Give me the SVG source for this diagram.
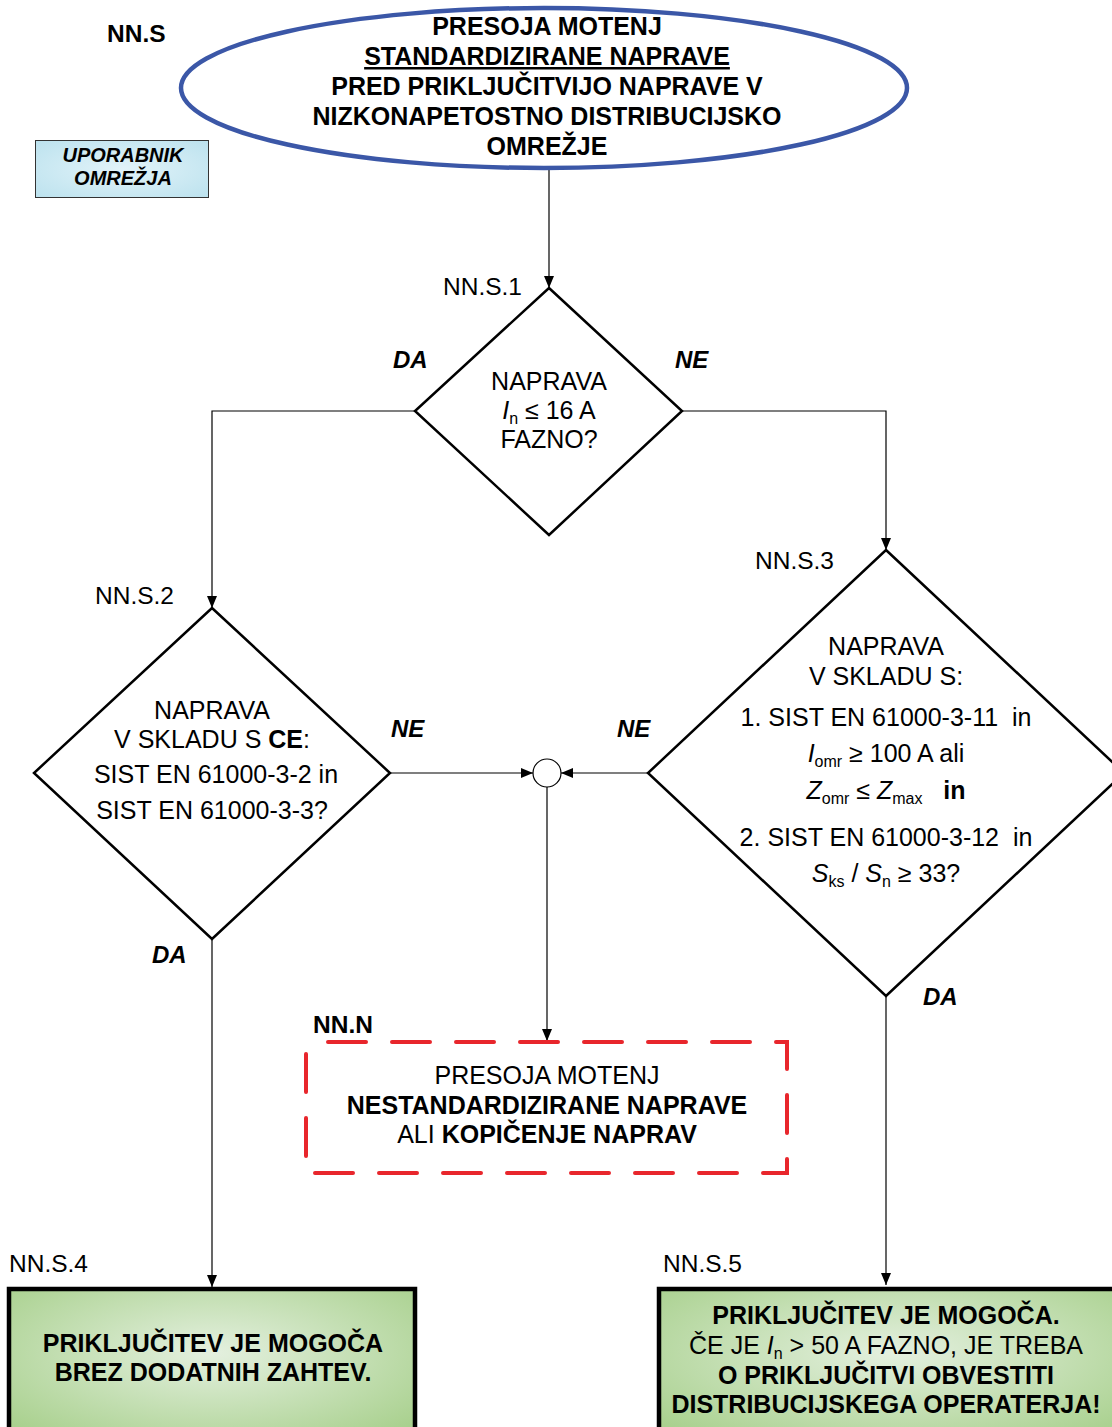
<svg xmlns="http://www.w3.org/2000/svg" width="1112" height="1427" viewBox="0 0 1112 1427">
  <defs>
    <marker id="arrow" viewBox="0 0 12 10" refX="12" refY="5" markerWidth="12" markerHeight="10" markerUnits="userSpaceOnUse" orient="auto">
      <path d="M0,0 L12,5 L0,10 Z" fill="#000"/>
    </marker>
    <radialGradient id="greenFill" cx="50%" cy="40%" r="70%">
      <stop offset="0" stop-color="#E4F0DF"/>
      <stop offset="1" stop-color="#A6CF8A"/>
    </radialGradient>
    <radialGradient id="blueFill" cx="50%" cy="50%" r="70%">
      <stop offset="0" stop-color="#E2F3F9"/>
      <stop offset="1" stop-color="#BCE2EE"/>
    </radialGradient>
    <style>
      text { font-family: "Liberation Sans", Arial, sans-serif; fill: #000; }
      .t { font-size: 25px; text-anchor: middle; }
      .b { font-weight: bold; }
      .lbl { font-size: 24.5px; }
      .yn { font-size: 24px; font-weight: bold; font-style: italic; }
      .sub { font-size: 16px; }
      .diamond { fill: #fff; stroke: #000; stroke-width: 2.5; }
      .conn { fill: none; stroke: #000; stroke-width: 1.2; }
      .result { fill: url(#greenFill); stroke: #000; stroke-width: 4.5; }
    </style>
  </defs>

  <rect width="1112" height="1427" fill="#fff"/>

  <!-- connectors -->
  <g id="connectors">
    <path class="conn" d="M549,169 V288" marker-end="url(#arrow)"/>
    <path class="conn" d="M415,411 H212 V608" marker-end="url(#arrow)"/>
    <path class="conn" d="M682,411 H886 V550" marker-end="url(#arrow)"/>
    <path class="conn" d="M390,773 H533" marker-end="url(#arrow)"/>
    <path class="conn" d="M648,773 H561" marker-end="url(#arrow)"/>
    <path class="conn" d="M547,787 V1041" marker-end="url(#arrow)"/>
    <path class="conn" d="M212,939 V1287" marker-end="url(#arrow)"/>
    <path class="conn" d="M886,996 V1285" marker-end="url(#arrow)"/>
    <text class="yn" x="393" y="368">DA</text>
    <text class="yn" x="675" y="368">NE</text>
    <text class="yn" x="391" y="737">NE</text>
    <text class="yn" x="617" y="737">NE</text>
    <text class="yn" x="152" y="963">DA</text>
    <text class="yn" x="923" y="1005">DA</text>
  </g>

  <!-- start: ellipse -->
  <g id="nn-s">
    <text class="lbl b" x="107" y="42">NN.S</text>
    <ellipse cx="544" cy="88" rx="363" ry="80" fill="#fff" stroke="#3B57A7" stroke-width="4.5"/>
    <text class="t b" x="547" y="35">PRESOJA MOTENJ</text>
    <text class="t b" x="547" y="65" text-decoration="underline">STANDARDIZIRANE NAPRAVE</text>
    <text class="t b" x="547" y="95">PRED PRIKLJUČITVIJO NAPRAVE V</text>
    <text class="t b" x="547" y="125">NIZKONAPETOSTNO DISTRIBUCIJSKO</text>
    <text class="t b" x="547" y="155">OMREŽJE</text>
  </g>

  <!-- role box -->
  <g id="uporabnik">
    <rect x="35.5" y="140.5" width="173" height="57" fill="url(#blueFill)" stroke="#333" stroke-width="1"/>
    <text x="123" y="162" text-anchor="middle" font-size="20" font-weight="bold" font-style="italic">UPORABNIK</text>
    <text x="123" y="185" text-anchor="middle" font-size="20" font-weight="bold" font-style="italic">OMREŽJA</text>
  </g>

  <!-- decision NN.S.1 -->
  <g id="nn-s-1">
    <text class="lbl" x="443" y="295">NN.S.1</text>
    <polygon class="diamond" points="549,288 682,411 549,535 415,411"/>
    <text class="t" x="549" y="390">NAPRAVA</text>
    <text class="t" x="549" y="419"><tspan font-style="italic">I</tspan><tspan class="sub" dy="5">n</tspan><tspan dy="-5"> ≤ 16 A</tspan></text>
    <text class="t" x="549" y="448">FAZNO?</text>
  </g>

  <!-- decision NN.S.2 -->
  <g id="nn-s-2">
    <text class="lbl" x="95" y="604">NN.S.2</text>
    <polygon class="diamond" points="212,608 390,773 212,939 34,773"/>
    <text class="t" x="212" y="719">NAPRAVA</text>
    <text class="t" x="212" y="748">V SKLADU S <tspan class="b">CE</tspan>:</text>
    <text class="t" x="216" y="783">SIST EN 61000-3-2 in</text>
    <text class="t" x="212" y="819">SIST EN 61000-3-3?</text>
  </g>

  <!-- decision NN.S.3 -->
  <g id="nn-s-3">
    <text class="lbl" x="755" y="569">NN.S.3</text>
    <polygon class="diamond" points="886,550 1124,773 886,996 648,773"/>
    <text class="t" x="886" y="655">NAPRAVA</text>
    <text class="t" x="886" y="685">V SKLADU S:</text>
    <text class="t" x="886" y="726" xml:space="preserve">1. SIST EN 61000-3-11  in</text>
    <text class="t" x="886" y="762"><tspan font-style="italic">I</tspan><tspan class="sub" dy="5">omr</tspan><tspan dy="-5"> ≥ 100 A ali</tspan></text>
    <text class="t" x="886" y="799" xml:space="preserve"><tspan font-style="italic">Z</tspan><tspan class="sub" dy="5">omr</tspan><tspan dy="-5"> ≤ </tspan><tspan font-style="italic">Z</tspan><tspan class="sub" dy="5">max</tspan><tspan dy="-5">   </tspan><tspan class="b">in</tspan></text>
    <text class="t" x="886" y="846" xml:space="preserve">2. SIST EN 61000-3-12  in</text>
    <text class="t" x="886" y="882"><tspan font-style="italic">S</tspan><tspan class="sub" dy="5">ks</tspan><tspan dy="-5"> / </tspan><tspan font-style="italic">S</tspan><tspan class="sub" dy="5">n</tspan><tspan dy="-5"> ≥ 33?</tspan></text>
  </g>

  <!-- junction -->
  <g id="junction">
    <circle cx="547" cy="773" r="14" fill="#fff" stroke="#000" stroke-width="1.2"/>
  </g>

  <!-- non-standard assessment -->
  <g id="nn-n">
    <text class="lbl b" x="313" y="1033">NN.N</text>
    <rect x="306" y="1042" width="481" height="131" fill="none" stroke="#E8262C" stroke-width="4" stroke-dasharray="38 26" stroke-dashoffset="42" stroke-linecap="round"/>
    <text class="t" x="547" y="1084">PRESOJA MOTENJ</text>
    <text class="t b" x="547" y="1114">NESTANDARDIZIRANE NAPRAVE</text>
    <text class="t" x="547" y="1143">ALI <tspan class="b">KOPIČENJE NAPRAV</tspan></text>
  </g>

  <!-- result NN.S.4 -->
  <g id="nn-s-4">
    <text class="lbl" x="9" y="1272">NN.S.4</text>
    <rect class="result" x="9" y="1289" width="406" height="160"/>
    <text class="t b" x="213" y="1352">PRIKLJUČITEV JE MOGOČA</text>
    <text class="t b" x="213" y="1381">BREZ DODATNIH ZAHTEV.</text>
  </g>

  <!-- result NN.S.5 -->
  <g id="nn-s-5">
    <text class="lbl" x="663" y="1272">NN.S.5</text>
    <rect class="result" x="659" y="1289" width="470" height="160"/>
    <text class="t b" x="886" y="1324">PRIKLJUČITEV JE MOGOČA.</text>
    <text class="t" x="886" y="1354">ČE JE <tspan font-style="italic">I</tspan><tspan class="sub" dy="5">n</tspan><tspan dy="-5"> &gt; 50 A FAZNO, JE TREBA</tspan></text>
    <text class="t b" x="886" y="1384">O PRIKLJUČITVI OBVESTITI</text>
    <text class="t b" x="886" y="1413">DISTRIBUCIJSKEGA OPERATERJA!</text>
  </g>
</svg>
